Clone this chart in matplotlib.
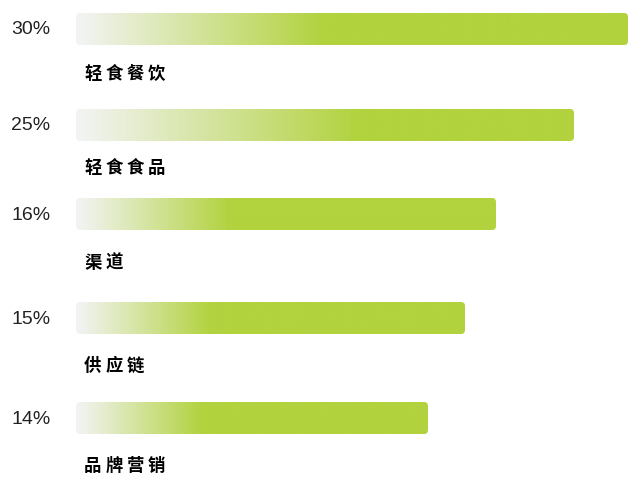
import numpy as np
import matplotlib.pyplot as plt
from matplotlib.colors import LinearSegmentedColormap
from matplotlib.patches import FancyBboxPatch

categories = ['轻食餐饮', '轻食食品', '渠道', '供应链', '品牌营销']
pct_labels = ['30%', '25%', '16%', '15%', '14%']
# bar lengths as drawn (px) and where the gradient turns fully green (fraction of bar)
bar_lengths = [552, 498, 420, 389, 352]
grad_stops = [0.45, 0.57, 0.37, 0.35, 0.36]

bar_y = [29, 125, 214, 318, 418]
label_y = [73, 167, 262, 365, 465]
x0 = 76
bar_h = 32

cmap = LinearSegmentedColormap.from_list('g', ['#f3f4f6', '#b2d23e'])

fig = plt.figure(figsize=(6.41, 4.93), dpi=100)
ax = fig.add_axes([0, 0, 1, 1])
ax.set_xlim(0, 641)
ax.set_ylim(493, 0)
ax.axis('off')

for i in range(len(categories)):
    w = bar_lengths[i]
    yc = bar_y[i]
    patch = FancyBboxPatch((x0, yc - bar_h / 2), w, bar_h,
                           boxstyle='round,pad=0,rounding_size=4',
                           facecolor='none', edgecolor='none',
                           transform=ax.transData)
    ax.add_patch(patch)
    t = np.linspace(0, 1, 600)
    grad = np.clip(t / grad_stops[i], 0, 1)[None, :]
    im = ax.imshow(grad, cmap=cmap, vmin=0, vmax=1, aspect='auto',
                   extent=[x0, x0 + w, yc + bar_h / 2, yc - bar_h / 2],
                   interpolation='bilinear')
    im.set_clip_path(patch)

    ax.text(31, yc + 1, pct_labels[i], ha='center', va='center',
            fontsize=14, color='#222222', family='Liberation Sans')

    for j, ch in enumerate(categories[i]):
        ax.text(84 + j * 21.3, label_y[i] + 1, ch, ha='left', va='center',
                fontsize=12.5, fontweight='bold', color='#000000',
                family=['Noto Sans CJK SC', 'DejaVu Sans'])

ax.set_xlim(0, 641)
ax.set_ylim(493, 0)
fig.savefig('out.png', dpi=100, facecolor='white')
